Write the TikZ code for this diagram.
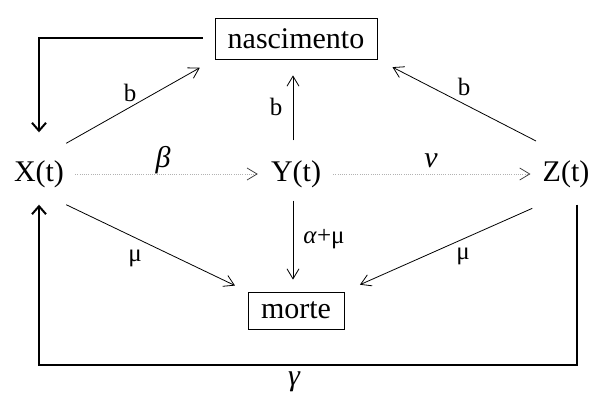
\documentclass[tikz,border=0pt]{standalone}
\usepackage{fontspec}
\setmainfont{Liberation Serif}
\usetikzlibrary{arrows.meta}
\tikzset{
  estado/.style={font=\fontsize{30}{36}\selectfont, minimum height=61pt, inner xsep=2pt, inner ysep=0pt},
  caixa/.style={draw, line width=0.8pt, font=\fontsize{30}{36}\selectfont, inner sep=0pt},
  rotulo/.style={font=\fontsize{25}{30}\selectfont, inner sep=0pt},
  grego/.style={font=\fontsize{30}{36}\selectfont\itshape, inner sep=0pt},
  fluxo/.style={line width=0.8pt, -{Straight Barb[length=10pt,width=12pt]}},
  infec/.style={gray!60, dash pattern=on 0.8pt off 1.4pt, line width=0.8pt, -{Straight Barb[length=10pt,width=12pt,color=black!75]}},
  laco/.style={line width=2pt, -{Straight Barb[length=8pt,width=14pt]}}
}
\begin{document}
\begin{tikzpicture}[x=1pt, y=-1pt]
    \useasboundingbox (0,0) rectangle (590,393);
    % compartimentos
    \node[caixa, minimum width=162pt, minimum height=41pt] (nasc) at (296,38.5) {nascimento};
    \node[caixa, minimum width=96pt, minimum height=37pt] (morte) at (296,310.5) {morte};
    \node[estado] (X) at (39,174) {X(t)};
    \node[estado] (Y) at (296,174) {Y(t)};
    \node[estado] (Z) at (566,174) {Z(t)};
    % taxas
    \node[rotulo] (bX) at (130,93) {b};
    \node[rotulo] (bY) at (276,107) {b};
    \node[rotulo] (bZ) at (464,87) {b};
    \node[rotulo] (muX) at (135,258) {μ};
    \node[rotulo] (muZ) at (463,256) {μ};
    \node[rotulo] (alfaY) at (324,239) {\textit{α}+μ};
    \node[grego] (beta) at (163,160) {β};
    \node[grego] (nu) at (431,161) {ν};
    \node[grego] (gama) at (294,382) {γ};
    % nascimentos e mortes
    \draw[fluxo, shorten >=17pt] (X.north east) -- (nasc.south west);
    \draw[fluxo, shorten <=3pt, shorten >=16pt] ([xshift=-3pt]Y.north) -- ([xshift=-3pt]nasc.south);
    \draw[fluxo, shorten <=5pt, shorten >=17pt] (Z.north west) -- (nasc.south east);
    \draw[fluxo, shorten >=14pt] (X.south east) -- (morte.north west);
    \draw[fluxo, shorten <=-4pt, shorten >=12pt] ([xshift=-3pt]Y.south) -- ([xshift=-3pt]morte.north);
    \draw[fluxo, shorten <=9pt, shorten >=17pt] (Z.south west) -- (morte.north east);
    % infeccao e remocao
    \draw[infec, shorten <=9pt, shorten >=11pt] (X) -- (Y);
    \draw[infec, shorten <=10pt, shorten >=10pt] (Y) -- (Z);
    % recem-nascidos e recuperados
    \draw[laco, shorten <=12pt, shorten >=11pt] (nasc.west) -| (X.north);
    \coordinate (fundo) at (0,365);
    \coordinate (zbase) at ([xshift=11pt]Z.south);
    \draw[laco] (zbase) -- (zbase |- fundo) -| (X.south);
  \end{tikzpicture}
\end{document}
